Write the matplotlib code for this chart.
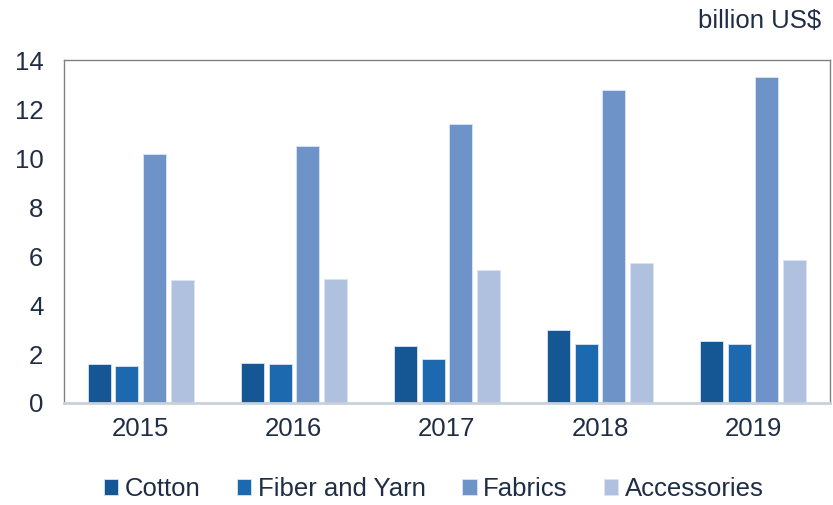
import numpy as np
import matplotlib.pyplot as plt

plt.rcParams['font.family'] = ['Liberation Sans', 'DejaVu Sans']

years = ['2015', '2016', '2017', '2018', '2019']
cotton = [1.59, 1.63, 2.34, 2.99, 2.54]
fiber_yarn = [1.51, 1.60, 1.80, 2.41, 2.40]
fabrics = [10.16, 10.48, 11.39, 12.79, 13.31]
accessories = [5.02, 5.08, 5.42, 5.70, 5.85]

series = [('Cotton', cotton, '#155694'),
          ('Fiber and Yarn', fiber_yarn, '#1c69b0'),
          ('Fabrics', fabrics, '#6e93c8'),
          ('Accessories', accessories, '#b0c0df')]

txt = '#1f2d45'
fs = 18.5
fig = plt.figure(figsize=(8.33, 5.05), dpi=100)
ax = fig.add_axes([0.077, 0.202, 0.919, 0.679])

x = np.arange(len(years))
step = 0.18
for i, (name, vals, col) in enumerate(series):
    ax.bar(x + (i - 1.5) * step, vals, width=0.15, color=col,
           edgecolor='#dbe4f3', linewidth=0.6, label=name, zorder=2)

ax.set_xlim(-0.5, 4.5)
ax.set_ylim(0, 14)
ax.set_yticks(range(0, 15, 2))
ax.set_xticks(x)
ax.set_xticklabels(years)
ax.tick_params(axis='both', length=0, labelsize=fs, colors=txt)
ax.tick_params(axis='x', pad=10)
ax.tick_params(axis='y', pad=15)
for s in ['left', 'top', 'right']:
    ax.spines[s].set_color('#808080')
    ax.spines[s].set_linewidth(1)
ax.spines['bottom'].set_color('#c8d0dc')
ax.spines['bottom'].set_linewidth(2)

fig.text(821 / 833, 1 - 21 / 505, 'billion US$', ha='right', va='center',
         fontsize=fs, color=txt)

fig.legend(loc='center', bbox_to_anchor=(434 / 833, 1 - 489 / 505), ncol=4,
           frameon=False, fontsize=fs, handlelength=0.55, handleheight=0.55,
           handletextpad=0.25, columnspacing=1.43, labelcolor=txt)

plt.savefig('out.png')
